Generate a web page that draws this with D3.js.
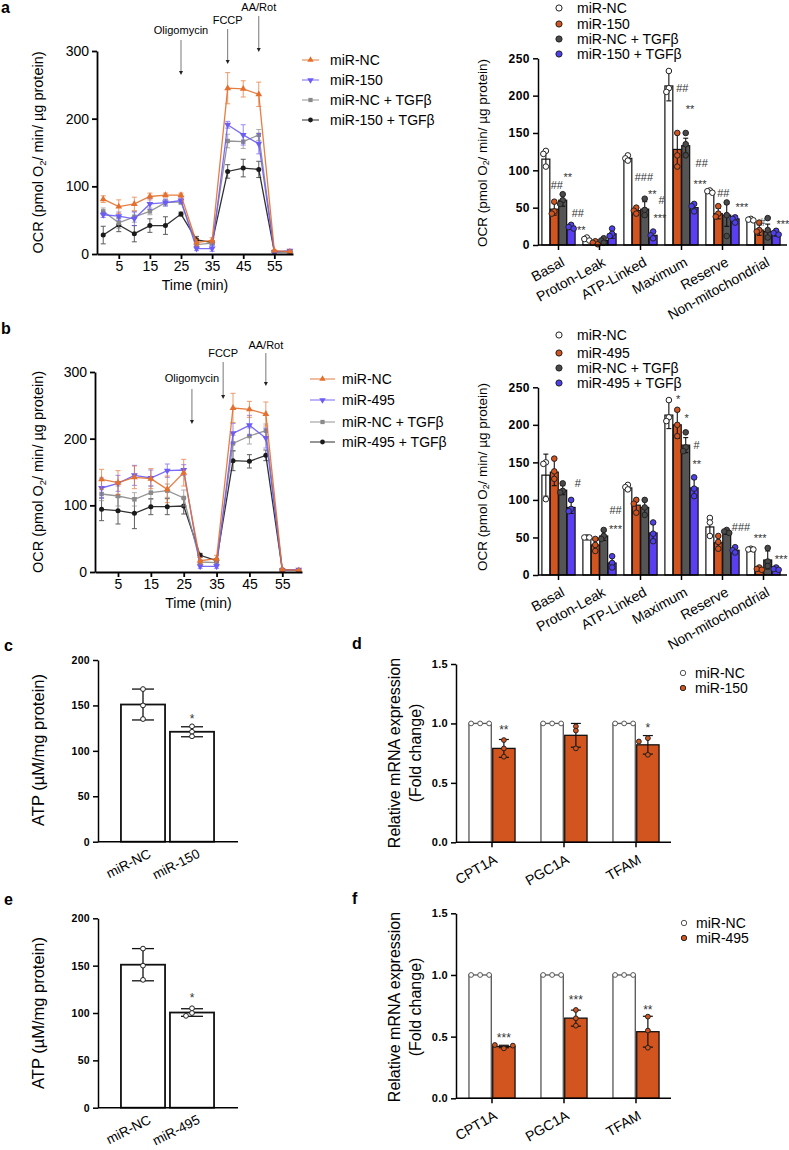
<!DOCTYPE html>
<html>
<head>
<meta charset="utf-8">
<script src="https://cdn.jsdelivr.net/npm/d3@7"></script>
<style>
  body { margin: 0; background: #fff; }
  svg { font-family: "Liberation Sans", Arial, sans-serif; }
</style>
</head>
<body>
<svg id="fig" width="789" height="1150"></svg>
<script>
const FONT = '"Liberation Sans", Arial, sans-serif';

// ---------- time course (panels a, b left) ----------
const times = [0, 5, 10, 15, 20, 25, 30, 35, 40, 45, 50, 55, 60];
const timeTicks = [5, 15, 25, 35, 45, 55];
const injections = ["Oligomycin", "FCCP", "AA/Rot"];
const injTimesA = [25, 40, 50];
const injTimesB = [27.5, 37, 50];

const aNames = ["miR-NC", "miR-150", "miR-NC + TGFβ", "miR-150 + TGFβ"];
const aNC = [81, 70, 74, 85, 87, 87, 17, 20, 245, 244, 236, 5, 3.5];
const aNCErr = [5, 10, 10, 5, 3, 3, 5, 4, 23, 12, 18, 1, 1];
const a150 = [58, 56, 52, 74, 76, 79, 8, 8, 191, 176, 163, 3, 5];
const a150Err = [4, 6, 10, 8, 5, 4, 3, 4, 5, 15, 15, 1, 1];
const aNCT = [63, 46, 55, 63, 76, 77, 14, 16, 167, 166, 176, 3, 4];
const aNCTErr = [5, 8, 8, 5, 5, 4, 3, 3, 10, 10, 8, 1, 1];
const a150T = [28, 43, 30, 42, 42, 59, 21, 17, 122, 127, 125, 3, 3];
const a150TErr = [13, 10, 12, 10, 13, 3, 5, 3, 10, 13, 12, 1, 1];

const bNames = ["miR-NC", "miR-495", "miR-NC + TGFβ", "miR-495 + TGFβ"];
const bNC = [139, 134, 142, 140, 124, 149, 17, 20, 246, 244, 237, 3.5, 2.5];
const bNCErr = [15, 18, 17, 15, 20, 20, 5, 5, 22, 12, 18, 1, 1];
const b495 = [126, 133, 145, 141, 152, 153, 8.5, 8.5, 208, 220, 201, 2.5, 3.5];
const b495Err = [15, 12, 15, 12, 10, 8, 3, 3, 15, 15, 15, 1, 1];
const bNCT = [117, 114, 109, 119, 122, 111, 15, 14, 193, 204, 212, 3, 2.5];
const bNCTErr = [10, 15, 10, 10, 10, 12, 3, 3, 12, 12, 10, 1, 1];
const b495T = [94, 92, 88, 98, 98, 99, 25, 17, 167, 166, 175, 3.5, 2.5];
const b495TErr = [17, 20, 23, 12, 12, 12, 3, 3, 15, 10, 8, 1, 1];

// ---------- OCR parameters (panels a, b right) ----------
const ocrCats = ["Basal", "Proton-Leak", "ATP-Linked", "Maximum", "Reserve", "Non-mitochondrial"];

const aBarNC = [115, 8, 116, 213, 71, 33];
const aBarNCSd = [10, 2, 4, 20, 2, 1];
const aBarNCPts = [[126, 122, 105], [10, 8, 6], [120, 116, 113], [233, 210, 205], [73, 72, 70], [35, 34, 33]];
const aBar150 = [48, 3, 46, 128, 42, 20];
const aBar150Sd = [8, 2, 4, 22, 7, 7];
const aBar150Pts = [[58, 45, 42], [5, 3, 1], [50, 46, 42], [150, 120, 105], [52, 42, 38], [30, 20, 18]];
const aBarNCT = [60, 6, 48, 133, 40, 18];
const aBarNCTSd = [8, 3, 10, 10, 15, 10];
const aBarNCTPts = [[68, 60, 55], [9, 6, 3], [62, 47, 40], [150, 135, 120], [57, 40, 12], [36, 20, 10]];
const aBar150T = [25, 15, 13, 50, 35, 15];
const aBar150TSd = [3, 6, 5, 5, 4, 3];
const aBar150TPts = [[27, 24, 22], [22, 15, 12], [18, 13, 9], [55, 52, 45], [37, 35, 30], [19, 16, 14]];
const aBarMarks = [
  { cat: 0, g: 1.3, text: "##", v: 80 }, { cat: 0, g: 2.6, text: "**", v: 95 },
  { cat: 0, g: 3.8, text: "##", v: 43 }, { cat: 0, g: 4.2, text: "**", v: 24 },
  { cat: 2, g: 1.9, text: "###", v: 91 }, { cat: 2, g: 2.9, text: "**", v: 72 },
  { cat: 2, g: 4.0, text: "#", v: 60 }, { cat: 2, g: 3.8, text: "***", v: 40 },
  { cat: 3, g: 1.6, text: "##", v: 210 }, { cat: 3, g: 2.5, text: "**", v: 185 },
  { cat: 3, g: 3.9, text: "##", v: 109 }, { cat: 3, g: 3.7, text: "***", v: 85 },
  { cat: 4, g: 1.6, text: "##", v: 70 }, { cat: 4, g: 3.8, text: "***", v: 54 },
  { cat: 5, g: 1.4, text: "#", v: 31 }, { cat: 5, g: 3.8, text: "***", v: 31 }
];

const bBarNC = [133, 50, 116, 213, 64, 34];
const bBarNCSd = [28, 1, 3, 18, 10, 1];
const bBarNCPts = [[150, 148, 101], [50, 50, 50], [120, 117, 114], [233, 210, 205], [76, 70, 52], [35, 34, 34]];
const bBar495 = [137, 40, 93, 200, 43, 8];
const bBar495Sd = [18, 8, 8, 18, 8, 2];
const bBar495Pts = [[155, 138, 128], [48, 40, 32], [100, 95, 83], [220, 200, 185], [52, 44, 35], [10, 8, 7]];
const bBarNCT = [113, 52, 90, 173, 57, 20];
const bBarNCTSd = [6, 6, 9, 10, 3, 12];
const bBarNCTPts = [[122, 112, 110], [60, 52, 48], [100, 90, 80], [190, 170, 165], [60, 58, 56], [36, 18, 12]];
const bBar495T = [90, 16, 56, 116, 33, 8];
const bBar495TSd = [8, 8, 12, 12, 4, 2];
const bBar495TPts = [[100, 88, 85], [25, 16, 10], [70, 55, 45], [130, 115, 105], [37, 33, 30], [10, 8, 7]];
const bBarMarks = [
  { cat: 0, g: 3.8, text: "#", v: 123 },
  { cat: 1, g: 3.4, text: "##", v: 87 }, { cat: 1, g: 3.4, text: "***", v: 65 },
  { cat: 3, g: 1.1, text: "*", v: 238 }, { cat: 3, g: 2.1, text: "*", v: 213 },
  { cat: 3, g: 3.3, text: "#", v: 173 }, { cat: 3, g: 3.3, text: "**", v: 151 },
  { cat: 4, g: 3.7, text: "###", v: 64 },
  { cat: 5, g: 1.1, text: "***", v: 53 }, { cat: 5, g: 3.6, text: "***", v: 25 }
];

// ---------- ATP (panels c, e) ----------
const atpCatsC = ["miR-NC", "miR-150"];
const atpC = [151, 121];
const atpCSd = [17, 5.5];
const atpCPts = [[168, 150, 135], [127, 121, 116]];
const atpCMarks = [{ cat: 1, g: 0, text: "*", v: 139 }];
const atpCatsE = ["miR-NC", "miR-495"];
const atpE = [151, 100.5];
const atpESd = [17, 4];
const atpEPts = [[168, 150, 135], [105, 100, 97]];
const atpEMarks = [{ cat: 1, g: 0, text: "*", v: 119 }];

// ---------- mRNA (panels d, f) ----------
const genes = ["CPT1A", "PGC1A", "TFAM"];
const mrnaNC = [1, 1, 1];
const mrnaNCSd = [0, 0, 0];
const mrnaNCPts = [[1, 1, 1], [1, 1, 1], [1, 1, 1]];
const mrna150 = [0.79, 0.90, 0.82];
const mrna150Sd = [0.075, 0.1, 0.078];
const mrna150Pts = [[0.86, 0.79, 0.72], [0.975, 0.94, 0.79], [0.876, 0.848, 0.736]];
const mrna150Marks = [{ cat: 0, g: 1, text: "**", v: 0.975 }, { cat: 2, g: 1, text: "*", v: 0.99 }];
const mrna495 = [0.42, 0.65, 0.54];
const mrna495Sd = [0.01, 0.065, 0.125];
const mrna495Pts = [[0.405, 0.432, 0.427], [0.716, 0.649, 0.589], [0.662, 0.549, 0.41]];
const mrna495Marks = [{ cat: 0, g: 1, text: "***", v: 0.514 }, { cat: 1, g: 1, text: "***", v: 0.824 }, { cat: 2, g: 1, text: "**", v: 0.743 }];

const ORANGE = "#d2541f", GREY = "#555555", BLUE = "#5a3ef2";
const LINE_COLORS = ["#e3702e", "#6b5cf6", "#8a8a8a", "#1a1a1a"];

const svg = d3.select("#fig");

function styleAxis(sel, lw, fs, bold) {
  sel.attr("font-family", FONT).attr("font-size", fs);
  sel.select(".domain").attr("stroke", "#000").attr("stroke-width", lw);
  sel.selectAll(".tick line").attr("stroke", "#000").attr("stroke-width", lw);
  sel.selectAll(".tick text").attr("fill", "#000").attr("font-weight", bold ? "bold" : "normal");
}

function ocrLabel(g, x, y, fs) {
  const t = g.append("text").attr("transform", `translate(${x},${y}) rotate(-90)`)
    .attr("text-anchor", "middle").attr("dominant-baseline", "central").attr("font-size", fs);
  t.append("tspan").text("OCR (pmol O");
  t.append("tspan").attr("dy", 4).attr("font-size", fs * 0.65).text("2");
  t.append("tspan").attr("dy", -4).text("/ min/ µg protein)");
}

function panelLetter(x, y, s) {
  svg.append("text").attr("x", x).attr("y", y).attr("font-size", 16).attr("font-weight", "bold").text(s);
}

function drawTimeCourse(c) {
  const g = svg.append("g");
  const x = d3.scaleLinear().domain([-2, 61]).range([c.left, c.right]);
  const y = d3.scaleLinear().domain([0, 300]).range([c.bottom, c.top]);

  const series = c.names.map((name, i) => ({
    name, values: c.values[i], err: c.errs[i], color: LINE_COLORS[i],
    symbol: [d3.symbolTriangle, d3.symbolTriangle, d3.symbolSquare, d3.symbolCircle][i],
    rot: i === 1 ? 180 : 0
  }));

  series.slice().reverse().forEach(s => {
    const pts = times.map((t, i) => ({ t, v: s.values[i], e: s.err[i] }));
    const eb = g.append("g").attr("stroke", s.color).attr("stroke-width", 1).attr("opacity", 0.7);
    pts.forEach(d => {
      eb.append("line").attr("x1", x(d.t)).attr("x2", x(d.t)).attr("y1", y(d.v - d.e)).attr("y2", y(d.v + d.e));
      [d.v - d.e, d.v + d.e].forEach(v =>
        eb.append("line").attr("x1", x(d.t) - 2.5).attr("x2", x(d.t) + 2.5).attr("y1", y(v)).attr("y2", y(v)));
    });
    g.append("path").datum(pts).attr("fill", "none").attr("stroke", s.color).attr("stroke-width", 1.3)
      .attr("opacity", 0.9)
      .attr("d", d3.line().x(d => x(d.t)).y(d => y(d.v)));
    g.selectAll(null).data(pts).join("path")
      .attr("transform", d => `translate(${x(d.t)},${y(d.v)}) rotate(${s.rot})`)
      .attr("d", d3.symbol(s.symbol, 20)).attr("fill", s.color);
  });

  const xAx = g.append("g").attr("transform", `translate(0,${c.bottom})`)
    .call(d3.axisBottom(x).tickValues(timeTicks).tickSize(5).tickSizeOuter(0).tickPadding(2));
  styleAxis(xAx, 1.8, 14, false);
  const yAx = g.append("g").attr("transform", `translate(${c.left},0)`)
    .call(d3.axisLeft(y).tickValues([0, 100, 200, 300]).tickSize(5).tickSizeOuter(0).tickPadding(3));
  styleAxis(yAx, 1.8, 14, false);

  g.append("text").attr("x", (c.left + c.right) / 2).attr("y", c.bottom + 36)
    .attr("text-anchor", "middle").attr("font-size", 14).text("Time (min)");
  ocrLabel(g, 38, (c.top + c.bottom) / 2, 14.5);

  injections.forEach((name, i) => {
    const ax = x(c.injTimes[i]);
    g.append("text").attr("x", ax).attr("y", c.inj.textY[i]).attr("text-anchor", "middle")
      .attr("font-size", 11).text(name);
    g.append("line").attr("x1", ax).attr("x2", ax).attr("y1", c.inj.top[i]).attr("y2", c.inj.bot[i] - 3)
      .attr("stroke", "#555").attr("stroke-width", 0.8);
    g.append("path").attr("d", `M${ax - 2},${c.inj.bot[i] - 4}L${ax + 2},${c.inj.bot[i] - 4}L${ax},${c.inj.bot[i]}Z`)
      .attr("fill", "#222");
  });

  series.forEach((s, i) => {
    const ry = c.legend.rows[i];
    g.append("line").attr("x1", c.legend.x0).attr("x2", c.legend.x1).attr("y1", ry).attr("y2", ry)
      .attr("stroke", s.color).attr("stroke-width", 1.3).attr("opacity", 0.7);
    g.append("path").attr("transform", `translate(${(c.legend.x0 + c.legend.x1) / 2},${ry}) rotate(${s.rot})`)
      .attr("d", d3.symbol(s.symbol, 18)).attr("fill", s.color);
    g.append("text").attr("x", c.legend.tx).attr("y", ry).attr("dy", "0.35em").attr("font-size", 14).text(s.name);
  });
}

function swarm(vals, y, step, thr) {
  const placed = [];
  return vals.map(v => {
    const py = y(v);
    for (const k of [0, -1, 1, -2, 2]) {
      const off = k * step;
      if (!placed.some(p => Math.abs(p.py - py) < thr && Math.abs(p.off - off) < step * 0.9)) {
        placed.push({ py, off });
        return { py, off };
      }
    }
    placed.push({ py, off: 0 });
    return { py, off: 0 };
  });
}

function drawBars(c) {
  const g = svg.append("g");
  const x = d3.scaleBand().domain(c.cats).range(c.xRange);
  const half = x.bandwidth() * c.groupFrac / 2;
  const inner = d3.scaleBand().domain(d3.range(c.groups.length)).range([-half, half]).paddingInner(c.innerPad);
  const y = d3.scaleLinear().domain(c.yDomain).range([c.yBot, c.yTop]);
  const cx = ci => x(c.cats[ci]) + x.bandwidth() / 2;
  const bw = inner.bandwidth();

  c.groups.forEach((grp, gi) => {
    c.cats.forEach((cat, ci) => {
      const bx = cx(ci) + inner(gi), mx = bx + bw / 2;
      const m = grp.means[ci], s = grp.sd[ci];
      g.append("rect").attr("x", bx).attr("y", y(m)).attr("width", bw).attr("height", y(0) - y(m))
        .attr("fill", grp.fill).attr("stroke", grp.stroke).attr("stroke-width", c.barLw);
      if (s > 0) {
        const eb = g.append("g").attr("stroke", "#111").attr("stroke-width", c.errLw);
        eb.append("line").attr("x1", mx).attr("x2", mx).attr("y1", y(m - s)).attr("y2", y(m + s));
        [m - s, m + s].forEach(v => eb.append("line").attr("x1", mx - c.capW / 2).attr("x2", mx + c.capW / 2)
          .attr("y1", y(v)).attr("y2", y(v)));
      }
    });
  });

  c.groups.forEach((grp, gi) => {
    c.cats.forEach((cat, ci) => {
      const mx = cx(ci) + inner(gi) + bw / 2;
      swarm(grp.pts[ci], y, c.spread, c.r * 1.5).forEach(p => {
        g.append("circle").attr("cx", mx + p.off).attr("cy", p.py).attr("r", c.r)
          .attr("fill", grp.ptFill).attr("stroke", grp.ptStroke).attr("stroke-width", 1);
      });
    });
  });

  const step = inner.step();
  (c.marks || []).forEach(mk => {
    const mx = cx(mk.cat) + inner(0) + bw / 2 + mk.g * step;
    g.append("text").attr("x", mx).attr("y", y(mk.v)).attr("dy", mk.text.includes("#") ? "0.35em" : "0.6em")
      .attr("text-anchor", "middle").attr("font-size", c.markFs).attr("fill", "#333").text(mk.text);
  });

  const yAx = g.append("g").attr("transform", `translate(${c.xAxis[0]},0)`)
    .call(d3.axisLeft(y).tickValues(c.yTicks).tickFormat(c.fmt).tickSize(5).tickSizeOuter(0).tickPadding(3));
  styleAxis(yAx, 1.5, c.tickFs, true);
  yAx.selectAll(".tick text").attr("letter-spacing", c.tickLs || 0);

  const xAx = g.append("g").attr("transform", `translate(0,${y(0)})`)
    .call(d3.axisBottom(x).tickSize(c.xTick).tickSizeOuter(0));
  styleAxis(xAx, 1.5, c.labelFs, false);
  xAx.select(".domain").remove();
  xAx.append("line").attr("x1", c.xAxis[0]).attr("x2", c.xAxis[1]).attr("stroke", "#000").attr("stroke-width", 1.5);
  xAx.selectAll(".tick text")
    .attr("text-anchor", "end").attr("y", null).attr("dy", null)
    .attr("transform", `translate(${c.labelOff[0]},${c.labelOff[1]}) rotate(${c.labelRot})`);

  // y-axis title
  c.ylabel(g, y);

  // legend
  (c.legend ? c.groups : []).forEach((grp, gi) => {
    const ry = c.legend.rows[gi];
    g.append("circle").attr("cx", c.legend.cx).attr("cy", ry).attr("r", c.r + 0.3)
      .attr("fill", grp.ptFill).attr("stroke", grp.ptStroke).attr("stroke-width", 1);
    g.append("text").attr("x", c.legend.tx).attr("y", ry).attr("dy", "0.35em")
      .attr("font-size", c.legend.fs).text(grp.name);
  });
}

// ---------- panel a ----------
panelLetter(1, 13, "a");
drawTimeCourse({
  left: 97, right: 293, top: 51, bottom: 254,
  names: aNames, values: [aNC, a150, aNCT, a150T], errs: [aNCErr, a150Err, aNCTErr, a150TErr],
  injTimes: injTimesA,
  inj: { textY: [34, 24, 11], top: [40, 29, 16], bot: [75, 64, 52] },
  legend: { x0: 302, x1: 319, tx: 330, rows: [60, 80, 100, 120] }
});

function fourGroups(names, means, sds, pts) {
  const fills = ["#fff", ORANGE, GREY, BLUE];
  const ptFills = ["#fff", ORANGE, "#4a4a4a", "#4e3ff0"];
  return names.map((name, i) => ({
    name, means: means[i], sd: sds[i], pts: pts[i],
    fill: fills[i], stroke: "#111", ptFill: ptFills[i], ptStroke: "#222"
  }));
}

const ocrBarBase = {
  cats: ocrCats, xRange: [538, 784], xAxis: [538, 787], yDomain: [0, 250],
  yTicks: [0, 50, 100, 150, 200, 250], fmt: d3.format("d"),
  groupFrac: 0.81, innerPad: 0.06, barLw: 1.2, errLw: 1.1, capW: 5, r: 2.8, spread: 2.5,
  markFs: 11, tickFs: 12, tickLs: 0.5, labelFs: 14, xTick: 5, labelOff: [7, 20], labelRot: -29
};

drawBars(Object.assign({}, ocrBarBase, {
  yBot: 245, yTop: 58.3,
  groups: fourGroups(aNames, [aBarNC, aBar150, aBarNCT, aBar150T], [aBarNCSd, aBar150Sd, aBarNCTSd, aBar150TSd],
    [aBarNCPts, aBar150Pts, aBarNCTPts, aBar150TPts]),
  marks: aBarMarks,
  ylabel: (g, y) => ocrLabel(g, 482, 153, 13.5),
  legend: { cx: 559, tx: 577, rows: [8, 24, 39, 54], fs: 14 }
}));

// ---------- panel b ----------
panelLetter(1, 334, "b");
drawTimeCourse({
  left: 95, right: 302, top: 372, bottom: 572,
  names: bNames, values: [bNC, b495, bNCT, b495T], errs: [bNCErr, b495Err, bNCTErr, b495TErr],
  injTimes: injTimesB,
  inj: { textY: [382, 357, 349], top: [389, 362, 353], bot: [424, 399, 386] },
  legend: { x0: 310, x1: 335, tx: 342, rows: [379, 400, 422, 442] }
});

drawBars(Object.assign({}, ocrBarBase, {
  yBot: 575, yTop: 387.3,
  groups: fourGroups(bNames, [bBarNC, bBar495, bBarNCT, bBar495T], [bBarNCSd, bBar495Sd, bBarNCTSd, bBar495TSd],
    [bBarNCPts, bBar495Pts, bBarNCTPts, bBar495TPts]),
  marks: bBarMarks,
  ylabel: (g, y) => ocrLabel(g, 482, 477, 13.5),
  legend: { cx: 559, tx: 577, rows: [335, 353, 368, 383], fs: 14 }
}));

// ---------- panels c, e ----------
function atpLabel(yc) {
  return g => g.append("text").attr("transform", `translate(38,${yc}) rotate(-90)`)
    .attr("text-anchor", "middle").attr("dominant-baseline", "central").attr("font-size", 16.5)
    .text("ATP (µM/mg protein)");
}
const atpBase = {
  xRange: [118.5, 216.5], xAxis: [98, 238], yDomain: [0, 200], yTicks: [0, 50, 100, 150, 200],
  fmt: d3.format("d"), groupFrac: 0.9, innerPad: 0, barLw: 1.8, errLw: 1.3, capW: 22, r: 2.4, spread: 6,
  markFs: 12, tickFs: 10.5, tickLs: 0.3, labelFs: 13.5, xTick: 0, labelOff: [9, 15], labelRot: -27
};

panelLetter(4, 651, "c");
drawBars(Object.assign({}, atpBase, {
  cats: atpCatsC, yBot: 841.7, yTop: 660,
  groups: [{ name: "", means: atpC, sd: atpCSd, pts: atpCPts, fill: "#fff", stroke: "#111", ptFill: "#fff", ptStroke: "#222" }],
  marks: atpCMarks, ylabel: atpLabel(750)
}));

panelLetter(4, 905, "e");
drawBars(Object.assign({}, atpBase, {
  cats: atpCatsE, yBot: 1107.7, yTop: 918.3,
  groups: [{ name: "", means: atpE, sd: atpESd, pts: atpEPts, fill: "#fff", stroke: "#111", ptFill: "#fff", ptStroke: "#222" }],
  marks: atpEMarks, ylabel: atpLabel(1013)
}));

// ---------- panels d, f ----------
function mrnaLabel(yc) {
  return g => {
    [["Relative mRNA expression", 394], ["(Fold change)", 415]].forEach(([s, lx]) =>
      g.append("text").attr("transform", `translate(${lx},${yc}) rotate(-90)`)
        .attr("text-anchor", "middle").attr("dominant-baseline", "central").attr("font-size", 16).text(s));
  };
}
function twoGroups(name2, means, sd, pts) {
  return [
    { name: "miR-NC", means: mrnaNC, sd: mrnaNCSd, pts: mrnaNCPts, fill: "#fff", stroke: "#555", ptFill: "#fff", ptStroke: "#555" },
    { name: name2, means, sd, pts, fill: ORANGE, stroke: "#111", ptFill: ORANGE, ptStroke: "#222" }
  ];
}
const mrnaBase = {
  cats: genes, xRange: [456, 672], xAxis: [456, 671], yDomain: [0, 1.5], yTicks: [0, 0.5, 1, 1.5],
  fmt: d3.format(".1f"), groupFrac: 0.64, innerPad: 0.06, barLw: 1.3, errLw: 1.2, capW: 10, r: 2.4, spread: 9,
  markFs: 12, tickFs: 11, tickLs: 0.3, labelFs: 14, xTick: 5, labelOff: [6, 20], labelRot: -30
};

panelLetter(352, 649, "d");
drawBars(Object.assign({}, mrnaBase, {
  yBot: 842.3, yTop: 664,
  groups: twoGroups("miR-150", mrna150, mrna150Sd, mrna150Pts),
  marks: mrna150Marks, ylabel: mrnaLabel(753),
  legend: { cx: 683, tx: 695, rows: [673, 688], fs: 14 }
}));

panelLetter(352, 904, "f");
drawBars(Object.assign({}, mrnaBase, {
  yBot: 1098.3, yTop: 913.3,
  groups: twoGroups("miR-495", mrna495, mrna495Sd, mrna495Pts),
  marks: mrna495Marks, ylabel: mrnaLabel(1007),
  legend: { cx: 684, tx: 696, rows: [923, 938], fs: 14 }
}));
</script>
</body>
</html>
